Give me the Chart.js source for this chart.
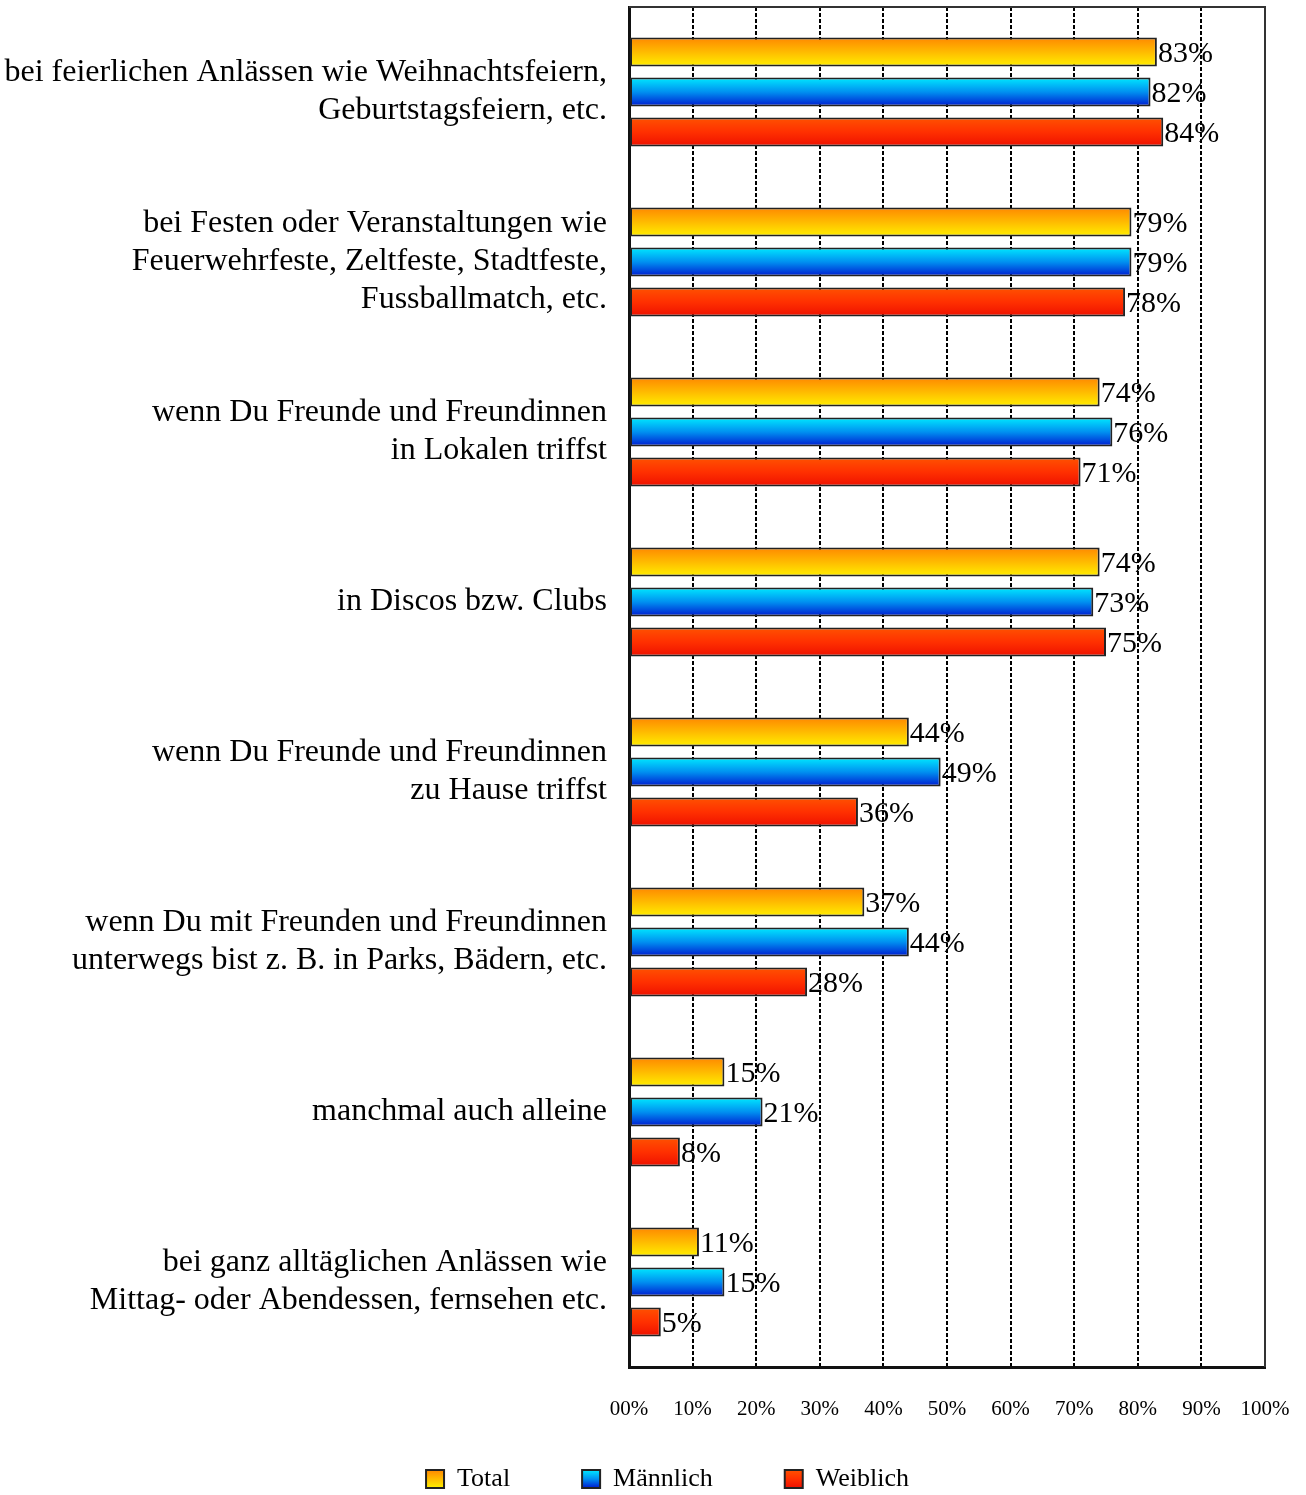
<!DOCTYPE html>
<html><head><meta charset="utf-8">
<script src="https://cdn.jsdelivr.net/npm/chart.js@4/dist/chart.umd.min.js"></script>
<style>html,body{margin:0;padding:0;background:#fff}</style>
</head><body>
<canvas id="c" width="1306" height="1495"></canvas>
<script>
const categories = [
  ["bei feierlichen Anlässen wie Weihnachtsfeiern,", "Geburtstagsfeiern, etc."],
  ["bei Festen oder Veranstaltungen wie", "Feuerwehrfeste, Zeltfeste, Stadtfeste,", "Fussballmatch, etc."],
  ["wenn Du Freunde und Freundinnen", "in Lokalen triffst"],
  "in Discos bzw. Clubs",
  ["wenn Du Freunde und Freundinnen", "zu Hause triffst"],
  ["wenn Du mit Freunden und Freundinnen", "unterwegs bist z. B. in Parks, Bädern, etc."],
  "manchmal auch alleine",
  ["bei ganz alltäglichen Anlässen wie", "Mittag- oder Abendessen, fernsehen etc."]
];
const seriesNames = ["Total", "Männlich", "Weiblich"];
const totalValues = [83, 79, 74, 74, 44, 37, 15, 11];
const maleValues = [82, 79, 76, 73, 49, 44, 21, 15];
const femaleValues = [84, 78, 71, 75, 36, 28, 8, 5];
const tickLabels = ["00%", "10%", "20%", "30%", "40%", "50%", "60%", "70%", "80%", "90%", "100%"];

const gradientStops = [
  ["#ff8800", "#ffbb00", "#fff000"],
  ["#00eaff", "#0090f0", "#0018d0"],
  ["#ff5200", "#ff3000", "#ee1000"]
];
const SERIF = "'Liberation Serif', 'Times New Roman', serif";

function makeGrad(ctx, y0, y1, stops) {
  const g = ctx.createLinearGradient(0, y0, 0, y1);
  g.addColorStop(0, stops[0]);
  g.addColorStop(0.5, stops[1]);
  g.addColorStop(1, stops[2]);
  return g;
}

const LEGEND_PAD = 72;
const BOX = 18;
const LEGEND_FONT = 26;
const LEGEND_ROW_Y = 1466;
const LEGEND_SHIFT_X = 35;

const gradientPlugin = {
  id: 'barGradients',
  beforeDatasetsDraw(chart) {
    const ctx = chart.ctx;
    chart.data.datasets.forEach((ds, di) => {
      const meta = chart.getDatasetMeta(di);
      meta.data.forEach(el => {
        const p = el.getProps(['y', 'height'], true);
        const g = makeGrad(ctx, p.y - p.height / 2, p.y + p.height / 2, gradientStops[di]);
        el.options = Object.assign({}, el.options, { backgroundColor: g });
      });
    });
  }
};

const labelPlugin = {
  id: 'valueLabels',
  afterDatasetsDraw(chart) {
    const ctx = chart.ctx;
    ctx.save();
    ctx.font = "30px " + SERIF;
    ctx.fillStyle = "#000";
    ctx.textAlign = "left";
    ctx.textBaseline = "middle";
    chart.data.datasets.forEach((ds, di) => {
      const meta = chart.getDatasetMeta(di);
      meta.data.forEach((el, i) => {
        const p = el.getProps(['x', 'y'], true);
        ctx.fillText(ds.data[i] + "%", p.x + 1, p.y + 2);
      });
    });
    ctx.restore();
  }
};

const framePlugin = {
  id: 'frame',
  afterDatasetsDraw(chart) {
    const a = chart.chartArea;
    const ctx = chart.ctx;
    ctx.save();
    ctx.strokeStyle = "#333";
    ctx.lineWidth = 2;
    ctx.beginPath();
    ctx.moveTo(a.left, a.top);
    ctx.lineTo(a.right, a.top);
    ctx.lineTo(a.right, a.bottom);
    ctx.stroke();
    ctx.restore();
  }
};

const legendPlacePlugin = {
  id: 'legendPlace',
  afterLayout(chart) {
    const lg = chart.legend;
    if (!lg) return;
    lg.top = LEGEND_ROW_Y - LEGEND_PAD;
    lg.bottom = chart.height;
    lg.height = lg.bottom - lg.top;
    lg.left += LEGEND_SHIFT_X;
    lg.right += LEGEND_SHIFT_X;
  }
};

new Chart(document.getElementById('c'), {
  type: 'bar',
  data: {
    labels: categories,
    datasets: [
      { label: seriesNames[0], data: totalValues },
      { label: seriesNames[1], data: maleValues },
      { label: seriesNames[2], data: femaleValues }
    ].map(d => Object.assign(d, {
      backgroundColor: '#ccc',
      borderColor: '#222',
      borderWidth: 2,
      borderSkipped: false,
      categoryPercentage: 0.706,
      barPercentage: 0.725
    }))
  },
  options: {
    indexAxis: 'y',
    responsive: false,
    animation: false,
    layout: { padding: { top: 7, right: 41, left: 0, bottom: 0 } },
    scales: {
      x: {
        min: 0, max: 100,
        afterFit(scale) { scale.height = 60; scale.paddingLeft = 0; scale.paddingRight = 0; },
        ticks: {
          stepSize: 10,
          padding: 30,
          color: '#000',
          font: { family: SERIF, size: 21 },
          maxRotation: 0,
          autoSkip: false,
          callback(v, i) { return tickLabels[i]; }
        },
        grid: {
          drawTicks: false,
          lineWidth: 2,
          color: c => (c.tick && (c.tick.value === 0 || c.tick.value === 100)) ? 'rgba(0,0,0,0)' : '#000'
        },
        border: { display: true, color: '#111', width: 3, dash: [4, 2] }
      },
      y: {
        afterFit(scale) { scale.width = 629; scale.paddingTop = 0; scale.paddingBottom = 0; },
        grid: { display: false, drawTicks: false },
        border: { display: true, color: '#111', width: 3 },
        ticks: {
          padding: 22,
          color: '#000',
          font: { family: SERIF, size: 32, lineHeight: 1.19 },
          autoSkip: false
        }
      }
    },
    plugins: {
      tooltip: { enabled: false },
      legend: {
        position: 'bottom',
        maxHeight: 68,
        labels: {
          padding: LEGEND_PAD,
          boxWidth: BOX,
          boxHeight: BOX,
          color: '#000',
          font: { family: SERIF, size: LEGEND_FONT },
          generateLabels(chart) {
            const top = LEGEND_ROW_Y + (LEGEND_FONT - BOX) / 2;
            return chart.data.datasets.map((ds, i) => ({
              text: ds.label,
              fillStyle: makeGrad(chart.ctx, top, top + BOX, gradientStops[i]),
              strokeStyle: '#222',
              lineWidth: 2,
              fontColor: '#000',
              hidden: !chart.isDatasetVisible(i),
              datasetIndex: i
            }));
          }
        }
      }
    }
  },
  plugins: [gradientPlugin, labelPlugin, framePlugin, legendPlacePlugin]
});
</script>
</body></html>
